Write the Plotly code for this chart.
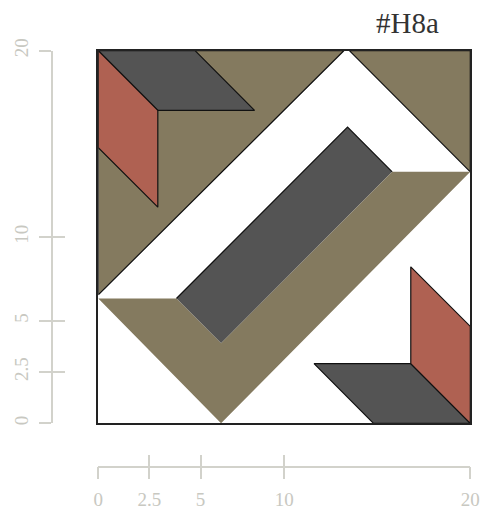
import plotly.graph_objects as go

# --- data (plot units, 0..20 on both axes) ---
olive_tl_x = [0, 13.2, 0]
olive_tl_y = [20, 20, 6.9]

olive_tr_x = [13.5, 20, 20]
olive_tr_y = [20, 20, 13.5]

band_x = [4.2, 13.4, 15.8, 6.6]
band_y = [6.7, 15.9, 13.5, 4.3]

chevron_x = [0, 4.2, 6.6, 15.8, 20, 6.6]
chevron_y = [6.7, 6.7, 4.3, 13.5, 13.5, 0]

dark_tl_x = [0, 5.2, 8.4, 3.2]
dark_tl_y = [20, 20, 16.8, 16.8]
red_tl_x = [0, 3.2, 3.2, 0]
red_tl_y = [20, 16.8, 11.6, 14.8]

dark_br_x = [20, 14.8, 11.6, 16.8]
dark_br_y = [0, 0, 3.2, 3.2]
red_br_x = [20, 16.8, 16.8, 20]
red_br_y = [0, 3.2, 8.4, 5.2]

tick_vals = [0, 2.75, 5.5, 10, 20]
tick_text = ["0", "2.5", "5", "10", "20"]

OLIVE = "#847a5f"
DARK = "#545454"
RED = "#af6152"
AXIS_GREY = "#d2d2cb"
LABEL_GREY = "#c8c8c1"
SERIF = "Liberation Serif, Times New Roman, serif"

W, H = 484, 510
PX0, PX1 = 98.3, 470.3      # plot area, pixels from left
PY0, PY1 = 50.7, 423.3      # plot area, pixels from top


def poly(xs, ys, color, outline=True):
    return go.Scatter(
        x=xs + xs[:1], y=ys + ys[:1], mode="lines", fill="toself",
        fillcolor=color,
        line=dict(color="#111111" if outline else color, width=1.2 if outline else 0),
        hoverinfo="skip", showlegend=False,
    )


fig = go.Figure()
fig.add_trace(poly(olive_tl_x, olive_tl_y, OLIVE))
fig.add_trace(poly(olive_tr_x, olive_tr_y, OLIVE))
fig.add_trace(poly(band_x, band_y, DARK, outline=False))
# only the upper edges of the band carry a black outline
fig.add_trace(go.Scatter(x=band_x[:3], y=band_y[:3], mode="lines",
                         line=dict(color="#111111", width=1.2),
                         hoverinfo="skip", showlegend=False))
fig.add_trace(poly(chevron_x, chevron_y, OLIVE, outline=False))
fig.add_trace(poly(dark_tl_x, dark_tl_y, DARK))
fig.add_trace(poly(red_tl_x, red_tl_y, RED))
fig.add_trace(poly(dark_br_x, dark_br_y, DARK))
fig.add_trace(poly(red_br_x, red_br_y, RED))

# empty traces so the floating guide axes get drawn
for xa, ya in [("x2", "y"), ("x3", "y"), ("x", "y2"), ("x", "y3")]:
    fig.add_trace(go.Scatter(x=[], y=[], xaxis=xa, yaxis=ya, showlegend=False))

dom_x = [PX0 / W, PX1 / W]
dom_y = [(H - PY1) / H, (H - PY0) / H]

frame = dict(range=[0, 20], showline=True, mirror=True, linecolor="#222222", linewidth=1.5,
             showgrid=False, zeroline=False, showticklabels=False, ticks="",
             fixedrange=True, automargin=False)

guide = dict(range=[0, 20], tickmode="array", tickvals=tick_vals, ticktext=tick_text,
             tickcolor=AXIS_GREY, tickwidth=1.5, ticklen=12, showgrid=False, zeroline=False,
             tickfont=dict(family=SERIF, size=19, color=LABEL_GREY),
             fixedrange=True, automargin=False)

fig.update_layout(
    width=W, height=H,
    margin=dict(l=0, r=0, t=0, b=0, autoexpand=False),
    paper_bgcolor="white", plot_bgcolor="white",
    showlegend=False, hovermode=False,
    xaxis=dict(domain=dom_x, anchor="y", **frame),
    yaxis=dict(domain=dom_y, anchor="x", **frame),
    xaxis2=dict(overlaying="x", anchor="free", position=(H - 466.7) / H,
                ticks="outside", showline=True, linecolor=AXIS_GREY, linewidth=1.5,
                ticklabelstandoff=4, **guide),
    xaxis3=dict(overlaying="x", anchor="free", position=(H - 466.7) / H,
                ticks="inside", showline=False, showticklabels=False, **guide),
    yaxis2=dict(overlaying="y", anchor="free", position=52 / W, side="left",
                ticks="outside", showline=True, linecolor=AXIS_GREY, linewidth=1.5,
                tickangle=-90, ticklabelstandoff=4, **guide),
    yaxis3=dict(overlaying="y", anchor="free", position=52 / W, side="left",
                ticks="inside", showline=False, showticklabels=False, **guide),
)

fig.add_annotation(
    text="#H8a", xref="paper", yref="paper", x=407 / W, y=(H - 23) / H,
    xanchor="center", yanchor="middle", showarrow=False,
    font=dict(family=SERIF, size=29, color="#333333"),
)

# the page's default body margin would shift the figure; drop it
fig.write_html("out.html", config={"displayModeBar": False},
               post_script="document.body.style.margin='0';")
